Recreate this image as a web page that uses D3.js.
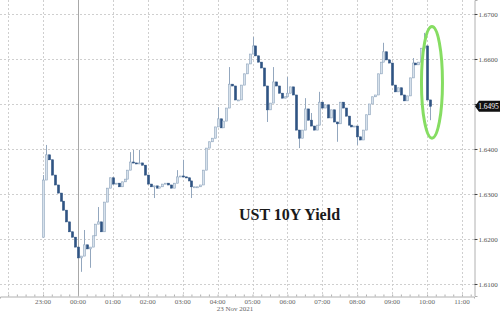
<!DOCTYPE html>
<html>
<head>
<meta charset="utf-8">
<script src="https://cdn.jsdelivr.net/npm/d3@7"></script>
<style>
  body { margin: 0; background: #fff; }
  svg { display: block; }
</style>
</head>
<body>
<div id="chart"></div>
<script>
// 5-minute candles of UST 10Y yield, starting 22 Nov 2021 23:00
var firstOpen = 1.6204;
var closes = [
  1.6331, 1.6387, 1.6376, 1.6342, 1.6320, 1.6302, 1.6284, 1.6264, 1.6238, 1.6216,
  1.6204, 1.6182, 1.6158, 1.6162, 1.6187, 1.6178, 1.6182, 1.6207, 1.6233, 1.6238,
  1.6216, 1.6282, 1.6313, 1.6336, 1.6322, 1.6324, 1.6316, 1.6327, 1.6333, 1.6353,
  1.6371, 1.6369, 1.6367, 1.6369, 1.6364, 1.6342, 1.6322, 1.6316, 1.6318, 1.6313,
  1.6316, 1.6322, 1.6324, 1.6320, 1.6313, 1.6324, 1.6338, 1.6340, 1.6338, 1.6336,
  1.6329, 1.6316, 1.6316, 1.6316, 1.6320, 1.6353, 1.6402, 1.6416, 1.6424, 1.6449,
  1.6467, 1.6447, 1.6462, 1.6491, 1.6544, 1.6540, 1.6509, 1.6509, 1.6542, 1.6567,
  1.6589, 1.6611, 1.6629, 1.6607, 1.6593, 1.6580, 1.6540, 1.6487, 1.6502, 1.6549,
  1.6540, 1.6524, 1.6513, 1.6516, 1.6524, 1.6538, 1.6520, 1.6442, 1.6424, 1.6442,
  1.6489, 1.6464, 1.6451, 1.6442, 1.6453, 1.6504, 1.6491, 1.6498, 1.6469, 1.6487,
  1.6460, 1.6456, 1.6504, 1.6491, 1.6473, 1.6453, 1.6449, 1.6451, 1.6427, 1.6420,
  1.6442, 1.6476, 1.6500, 1.6516, 1.6520, 1.6567, 1.6593, 1.6616, 1.6598, 1.6591,
  1.6542, 1.6527, 1.6536, 1.6520, 1.6507, 1.6518, 1.6558, 1.6591, 1.6587, 1.6593,
  1.6624, 1.6629, 1.6509, 1.6495
];
// wicks that reach past the candle body: [candle index, value]
var highWicks = [
  [0, 1.6342], [1, 1.6409], [14, 1.6220], [19, 1.6271], [30, 1.6393], [31, 1.6398],
  [33, 1.6398], [46, 1.6353], [48, 1.6376], [60, 1.6493], [64, 1.6582], [72, 1.6649],
  [79, 1.6582], [84, 1.6560], [90, 1.6513], [92, 1.6480], [95, 1.6527], [117, 1.6636],
  [127, 1.6602], [131, 1.6658]
];
var lowWicks = [
  [13, 1.6127], [16, 1.6136], [38, 1.6291], [51, 1.6291], [77, 1.6460], [88, 1.6402],
  [101, 1.6416], [108, 1.6409], [133, 1.6464]
];
var yTicks = [1.61, 1.62, 1.63, 1.64, 1.65, 1.66, 1.67];
var lastPrice = 1.6495;
var titleText = "UST 10Y Yield";
var dateLabel = "23 Nov 2021";

var width = 500, height = 313;
var plotW = 474, plotH = 296;

var start = new Date(2021, 10, 22, 23, 0);
var candles = closes.map(function(c, i) {
  var o = i === 0 ? firstOpen : closes[i - 1];
  return { t: d3.timeMinute.offset(start, 5 * i), o: o, c: c,
           h: Math.max(o, c), l: Math.min(o, c) };
});
highWicks.forEach(function(w) { candles[w[0]].h = w[1]; });
lowWicks.forEach(function(w) { candles[w[0]].l = w[1]; });

var x = d3.scaleTime()
  .domain([new Date(2021, 10, 22, 21, 46), new Date(2021, 10, 23, 11, 20, 40)])
  .range([0, plotW]);
var y = d3.scaleLinear()
  .domain([1.60733, 1.67311])
  .range([plotH, 0]);

var svg = d3.select("#chart").append("svg")
  .attr("width", width)
  .attr("height", height);

// grid
var hours = x.ticks(d3.timeHour.every(1));
svg.append("g").selectAll("line").data(hours).join("line")
  .attr("x1", function(d) { return Math.round(x(d)) + 0.5; })
  .attr("x2", function(d) { return Math.round(x(d)) + 0.5; })
  .attr("y1", 0).attr("y2", plotH)
  .attr("stroke", "#cfcfcf")
  .attr("stroke-dasharray", "2,2");
svg.append("g").selectAll("line").data(yTicks).join("line")
  .attr("x1", 0).attr("x2", plotW)
  .attr("y1", function(d) { return Math.round(y(d)) + 0.5; })
  .attr("y2", function(d) { return Math.round(y(d)) + 0.5; })
  .attr("stroke", "#cfcfcf")
  .attr("stroke-dasharray", "2,2");

// day break
var midnight = new Date(2021, 10, 23, 0, 0);
svg.append("line")
  .attr("x1", Math.round(x(midnight)) + 0.5).attr("x2", Math.round(x(midnight)) + 0.5)
  .attr("y1", 0).attr("y2", plotH)
  .attr("stroke", "#a8a8a8");

// axes
var xAxis = svg.append("g")
  .attr("transform", "translate(0," + (plotH + 0.5) + ")")
  .call(d3.axisBottom(x)
    .ticks(d3.timeMinute.every(15))
    .tickSize(2)
    .tickFormat(""));
xAxis.select(".domain").attr("stroke", "#b0b0b0");
xAxis.selectAll(".tick line").attr("stroke", "#b0b0b0").attr("y2", -2);

svg.append("g").selectAll("text")
  .data(hours.filter(function(d) { return x(d) > 20; }))
  .join("text")
  .attr("x", function(d) { return x(d); })
  .attr("y", plotH + 7.5)
  .attr("text-anchor", "middle")
  .style("font-family", "Liberation Serif, serif")
  .style("font-size", "7px")
  .attr("fill", "#666")
  .text(d3.timeFormat("%H:%M"));

svg.append("text")
  .attr("x", x(new Date(2021, 10, 23, 4, 30)))
  .attr("y", plotH + 14.5)
  .attr("text-anchor", "middle")
  .style("font-family", "Liberation Serif, serif")
  .style("font-size", "7px")
  .attr("fill", "#666")
  .text(dateLabel);

// the last-price tag covers the tick label nearest to it
var yAxis = svg.append("g")
  .attr("transform", "translate(" + (plotW + 0.5) + ",0)")
  .call(d3.axisRight(y)
    .tickValues(yTicks)
    .tickSize(3)
    .tickPadding(1)
    .tickFormat(function(d) {
      return Math.abs(y(d) - y(lastPrice)) < 8 ? "" : d3.format(".4f")(d);
    }));
yAxis.select(".domain").attr("stroke", "#b0b0b0");
yAxis.selectAll(".tick line").attr("stroke", "#444");
yAxis.selectAll(".tick text")
  .style("font-family", "Liberation Serif, serif")
  .style("font-size", "7px")
  .attr("fill", "#555");

// candles
var bw = 2;
var g = svg.append("g");
g.selectAll("line").data(candles).join("line")
  .attr("x1", function(d) { return Math.round(x(d.t)) + 0.5; })
  .attr("x2", function(d) { return Math.round(x(d.t)) + 0.5; })
  .attr("y1", function(d) { return y(d.h); })
  .attr("y2", function(d) { return y(d.l); })
  .attr("stroke", "#93a7be");
g.selectAll("rect").data(candles).join("rect")
  .attr("x", function(d) { return Math.round(x(d.t)) - bw / 2 + 0.5; })
  .attr("width", bw)
  .attr("y", function(d) { return y(Math.max(d.o, d.c)); })
  .attr("height", function(d) { return Math.max(1, Math.abs(y(d.o) - y(d.c))); })
  .attr("fill", function(d) { return d.c < d.o ? "#2f5483" : "#d6e1ec"; })
  .attr("stroke", function(d) { return d.c < d.o ? "#2f5483" : "#8fa5bd"; })
  .attr("stroke-width", 0.6);

// last price tag
var py = y(lastPrice);
svg.append("path")
  .attr("d", "M" + (plotW + 1) + "," + py + "l4,-5.5h21v11h-21z")
  .attr("fill", "#111");
svg.append("text")
  .attr("x", plotW + 14.5)
  .attr("y", py + 2.5)
  .attr("text-anchor", "middle")
  .style("font-family", "Liberation Serif, serif")
  .style("font-size", "7.5px")
  .attr("fill", "#fff")
  .text(d3.format(".4f")(lastPrice));

// highlight round the final drop
var last = candles[candles.length - 1];
svg.append("ellipse")
  .attr("cx", x(last.t) + 2)
  .attr("cy", y(1.6548))
  .attr("rx", 10.5)
  .attr("ry", y(1.6424) - y(1.6548))
  .attr("fill", "none")
  .attr("stroke", "#86dd62")
  .attr("stroke-width", 3);

// title
svg.append("text")
  .attr("x", 239)
  .attr("y", 220)
  .style("font-family", "Liberation Serif, serif")
  .style("font-weight", "bold")
  .style("font-size", "16px")
  .attr("fill", "#1a1a1a")
  .text(titleText);
</script>
</body>
</html>
